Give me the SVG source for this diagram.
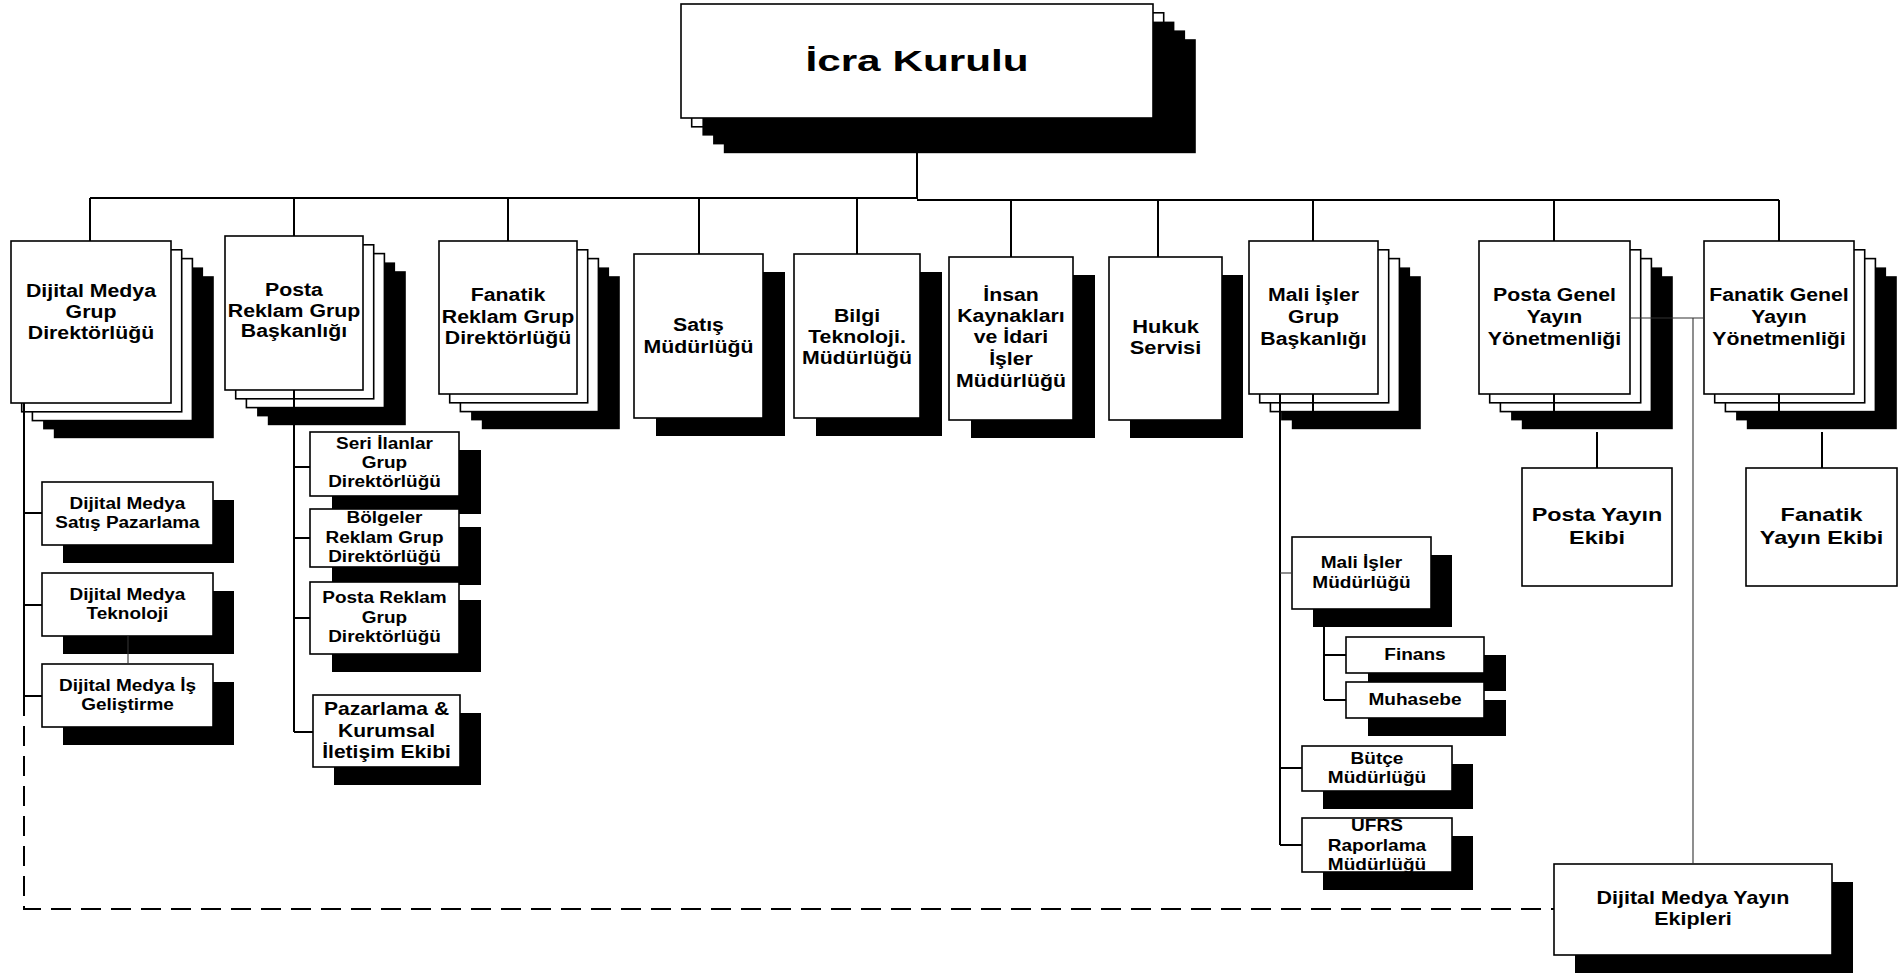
<svg xmlns="http://www.w3.org/2000/svg" width="1901" height="976" viewBox="0 0 1901 976">
<style>
.bx{fill:#fff;stroke:#000;stroke-width:1.6}
.sh{fill:#000}
.t{font-family:"Liberation Sans",Arial,sans-serif;font-weight:bold;fill:#000;text-anchor:middle}
.L{font-size:18.5px}
.S{font-size:15.8px}
.ln{fill:none;stroke:#000;stroke-width:2}
.th{fill:none;stroke:#333;stroke-width:1.1}
.ds{fill:none;stroke:#000;stroke-width:2;stroke-dasharray:20 10}
</style>
<rect width="1901" height="976" fill="#fff"/>

<g id="icra">
<rect class="bx" x="691.7" y="12.8" width="472" height="114"/>
<rect class="sh" x="702.4" y="21.6" width="472" height="114"/>
<rect class="sh" x="713.1" y="30.4" width="472" height="114"/>
<rect class="sh" x="723.8" y="39.2" width="472" height="114"/>
<rect class="bx" x="681" y="4" width="472" height="114"/>
<text class="t" font-size="30" transform="translate(917 0) scale(1.41 1)"><tspan x="0" y="71">İcra Kurulu</tspan></text>
</g>

<g id="dmg">
<rect class="sh" x="43.1" y="267.4" width="160" height="162"/>
<rect class="sh" x="53.8" y="276.2" width="160" height="162"/>
<rect class="bx" x="32.4" y="258.6" width="160" height="162"/>
<rect class="bx" x="21.7" y="249.8" width="160" height="162"/>
<rect class="bx" x="11" y="241" width="160" height="162"/>
<text class="t L" transform="translate(91 0) scale(1.15 1)"><tspan x="0" y="297">Dijital Medya</tspan><tspan x="0" y="318">Grup</tspan><tspan x="0" y="339">Direktörlüğü</tspan></text>
</g>

<g id="prg">
<rect class="sh" x="257.1" y="262.4" width="138" height="154"/>
<rect class="sh" x="267.8" y="271.2" width="138" height="154"/>
<rect class="bx" x="246.4" y="253.6" width="138" height="154"/>
<rect class="bx" x="235.7" y="244.8" width="138" height="154"/>
<rect class="bx" x="225" y="236" width="138" height="154"/>
<text class="t L" transform="translate(294 0) scale(1.15 1)"><tspan x="0" y="296">Posta</tspan><tspan x="0" y="317">Reklam Grup</tspan><tspan x="0" y="337">Başkanlığı</tspan></text>
</g>

<g id="frg">
<rect class="sh" x="471.1" y="267.4" width="138" height="153"/>
<rect class="sh" x="481.8" y="276.2" width="138" height="153"/>
<rect class="bx" x="460.4" y="258.6" width="138" height="153"/>
<rect class="bx" x="449.7" y="249.8" width="138" height="153"/>
<rect class="bx" x="439" y="241" width="138" height="153"/>
<text class="t L" transform="translate(508 0) scale(1.15 1)"><tspan x="0" y="301">Fanatik</tspan><tspan x="0" y="323">Reklam Grup</tspan><tspan x="0" y="344">Direktörlüğü</tspan></text>
</g>

<g id="satis">
<rect class="sh" x="656" y="272" width="129" height="164"/>
<rect class="bx" x="634" y="254" width="129" height="164"/>
<text class="t L" transform="translate(698.5 0) scale(1.15 1)"><tspan x="0" y="331">Satış</tspan><tspan x="0" y="353">Müdürlüğü</tspan></text>
</g>

<g id="bilgi">
<rect class="sh" x="816" y="272" width="126" height="164"/>
<rect class="bx" x="794" y="254" width="126" height="164"/>
<text class="t L" transform="translate(857 0) scale(1.15 1)"><tspan x="0" y="322">Bilgi</tspan><tspan x="0" y="343">Teknoloji.</tspan><tspan x="0" y="364">Müdürlüğü</tspan></text>
</g>

<g id="insan">
<rect class="sh" x="971" y="275" width="124" height="163"/>
<rect class="bx" x="949" y="257" width="124" height="163"/>
<text class="t L" transform="translate(1011 0) scale(1.15 1)"><tspan x="0" y="301">İnsan</tspan><tspan x="0" y="322">Kaynakları</tspan><tspan x="0" y="343">ve İdari</tspan><tspan x="0" y="365">İşler</tspan><tspan x="0" y="387">Müdürlüğü</tspan></text>
</g>

<g id="hukuk">
<rect class="sh" x="1130" y="275" width="113" height="163"/>
<rect class="bx" x="1109" y="257" width="113" height="163"/>
<text class="t L" transform="translate(1165.5 0) scale(1.18 1)"><tspan x="0" y="333">Hukuk</tspan><tspan x="0" y="354">Servisi</tspan></text>
</g>

<g id="mig">
<rect class="sh" x="1281.1" y="267.4" width="129" height="153"/>
<rect class="sh" x="1291.8" y="276.2" width="129" height="153"/>
<rect class="bx" x="1270.4" y="258.6" width="129" height="153"/>
<rect class="bx" x="1259.7" y="249.8" width="129" height="153"/>
<rect class="bx" x="1249" y="241" width="129" height="153"/>
<text class="t L" transform="translate(1313.5 0) scale(1.15 1)"><tspan x="0" y="301">Mali İşler</tspan><tspan x="0" y="323">Grup</tspan><tspan x="0" y="345">Başkanlığı</tspan></text>
</g>

<g id="pgy">
<rect class="sh" x="1511.1" y="267.4" width="151" height="153"/>
<rect class="sh" x="1521.8" y="276.2" width="151" height="153"/>
<rect class="bx" x="1500.4" y="258.6" width="151" height="153"/>
<rect class="bx" x="1489.7" y="249.8" width="151" height="153"/>
<rect class="bx" x="1479" y="241" width="151" height="153"/>
<text class="t L" transform="translate(1554.5 0) scale(1.15 1)"><tspan x="0" y="301">Posta Genel</tspan><tspan x="0" y="323">Yayın</tspan><tspan x="0" y="345">Yönetmenliği</tspan></text>
</g>

<g id="fgy">
<rect class="sh" x="1736.1" y="267.4" width="150" height="153"/>
<rect class="sh" x="1746.8" y="276.2" width="150" height="153"/>
<rect class="bx" x="1725.4" y="258.6" width="150" height="153"/>
<rect class="bx" x="1714.7" y="249.8" width="150" height="153"/>
<rect class="bx" x="1704" y="241" width="150" height="153"/>
<text class="t L" transform="translate(1779 0) scale(1.15 1)"><tspan x="0" y="301">Fanatik Genel</tspan><tspan x="0" y="323">Yayın</tspan><tspan x="0" y="345">Yönetmenliği</tspan></text>
</g>

<g id="dmsp">
<rect class="sh" x="63" y="500" width="171" height="63"/>
<rect class="bx" x="42" y="482" width="171" height="63"/>
<text class="t S" transform="translate(127.5 0) scale(1.2 1)"><tspan x="0" y="509">Dijital Medya</tspan><tspan x="0" y="528">Satış Pazarlama</tspan></text>
</g>

<g id="dmt">
<rect class="sh" x="63" y="591" width="171" height="63"/>
<rect class="bx" x="42" y="573" width="171" height="63"/>
<text class="t S" transform="translate(127.5 0) scale(1.2 1)"><tspan x="0" y="600">Dijital Medya</tspan><tspan x="0" y="619">Teknoloji</tspan></text>
</g>

<g id="dmig">
<rect class="sh" x="63" y="682" width="171" height="63"/>
<rect class="bx" x="42" y="664" width="171" height="63"/>
<text class="t S" transform="translate(127.5 0) scale(1.2 1)"><tspan x="0" y="691">Dijital Medya İş</tspan><tspan x="0" y="710">Geliştirme</tspan></text>
</g>

<g id="seri">
<rect class="sh" x="332" y="450" width="149" height="64"/>
<rect class="bx" x="310" y="432" width="149" height="64"/>
<text class="t S" transform="translate(384.5 0) scale(1.2 1)"><tspan x="0" y="449">Seri İlanlar</tspan><tspan x="0" y="468">Grup</tspan><tspan x="0" y="487">Direktörlüğü</tspan></text>
</g>

<g id="bolgeler">
<rect class="sh" x="332" y="527" width="149" height="58"/>
<rect class="bx" x="310" y="509" width="149" height="58"/>
<text class="t S" transform="translate(384.5 0) scale(1.2 1)"><tspan x="0" y="523">Bölgeler</tspan><tspan x="0" y="543">Reklam Grup</tspan><tspan x="0" y="562">Direktörlüğü</tspan></text>
</g>

<g id="prgd">
<rect class="sh" x="332" y="600" width="149" height="72"/>
<rect class="bx" x="310" y="582" width="149" height="72"/>
<text class="t S" transform="translate(384.5 0) scale(1.2 1)"><tspan x="0" y="603">Posta Reklam</tspan><tspan x="0" y="623">Grup</tspan><tspan x="0" y="642">Direktörlüğü</tspan></text>
</g>

<g id="pazarlama">
<rect class="sh" x="334" y="713" width="147" height="72"/>
<rect class="bx" x="313" y="695" width="147" height="72"/>
<text class="t" font-size="17.7" transform="translate(386.5 0) scale(1.19 1)"><tspan x="0" y="715">Pazarlama &amp;</tspan><tspan x="0" y="737">Kurumsal</tspan><tspan x="0" y="758">İletişim Ekibi</tspan></text>
</g>

<g id="mim">
<rect class="sh" x="1313" y="555" width="139" height="72"/>
<rect class="bx" x="1292" y="537" width="139" height="72"/>
<text class="t" font-size="16.3" transform="translate(1361.5 0) scale(1.17 1)"><tspan x="0" y="568">Mali İşler</tspan><tspan x="0" y="588">Müdürlüğü</tspan></text>
</g>

<g id="finans">
<rect class="sh" x="1368" y="655" width="138" height="36"/>
<rect class="bx" x="1346" y="637" width="138" height="36"/>
<text class="t" font-size="16.3" transform="translate(1415 0) scale(1.17 1)"><tspan x="0" y="660">Finans</tspan></text>
</g>

<g id="muhasebe">
<rect class="sh" x="1368" y="700" width="138" height="36"/>
<rect class="bx" x="1346" y="682" width="138" height="36"/>
<text class="t" font-size="16.3" transform="translate(1415 0) scale(1.17 1)"><tspan x="0" y="705">Muhasebe</tspan></text>
</g>

<g id="butce">
<rect class="sh" x="1323" y="764" width="150" height="45"/>
<rect class="bx" x="1302" y="746" width="150" height="45"/>
<text class="t" font-size="16.3" transform="translate(1377 0) scale(1.17 1)"><tspan x="0" y="764">Bütçe</tspan><tspan x="0" y="783">Müdürlüğü</tspan></text>
</g>

<g id="ufrs">
<rect class="sh" x="1323" y="836" width="150" height="54"/>
<rect class="bx" x="1302" y="818" width="150" height="54"/>
<text class="t" font-size="16.3" transform="translate(1377 0) scale(1.17 1)"><tspan x="0" y="831">UFRS</tspan><tspan x="0" y="851">Raporlama</tspan><tspan x="0" y="870">Müdürlüğü</tspan></text>
</g>

<g id="pye">
<rect class="bx" x="1522" y="468" width="150" height="118" stroke-width="2.2"/>
<text class="t" font-size="19" transform="translate(1597 0) scale(1.23 1)"><tspan x="0" y="521">Posta Yayın</tspan><tspan x="0" y="544">Ekibi</tspan></text>
</g>

<g id="fye">
<rect class="bx" x="1746" y="468" width="151" height="118" stroke-width="2.2"/>
<text class="t" font-size="19" transform="translate(1821.5 0) scale(1.23 1)"><tspan x="0" y="521">Fanatik</tspan><tspan x="0" y="544">Yayın Ekibi</tspan></text>
</g>

<g id="dmye">
<rect class="sh" x="1575" y="882" width="278" height="91"/>
<rect class="bx" x="1554" y="864" width="278" height="91"/>
<text class="t" font-size="19" transform="translate(1693 0) scale(1.13 1)"><tspan x="0" y="904">Dijital Medya Yayın</tspan><tspan x="0" y="925">Ekipleri</tspan></text>
</g>

<g id="connectors">
<path class="ln" d="M917 118V198M90 198H918M917 200H1779M90 198V241M294 198V236M508 198V241M699 198V254M857 198V254M1011 200V257M1158 200V257M1313 200V241M1554 200V241M1779 200V241"/>
<path class="ln" d="M24 403V696M24 513H42M24 605H42M24 696H42"/>
<path class="th" d="M128 636V664"/>
<path class="ln" d="M294 390V732M294 467H310M294 538H310M294 618H310M294 732H313"/>
<path class="ln" d="M1313 394V412M1280 394V845M1280 768H1302M1280 845H1302M1324 609V700M1324 655H1346M1324 700H1346"/>
<path class="th" d="M1280 573H1292"/>
<path class="ln" d="M1554 394V412M1779 394V412M1597 432V468M1822 432V468"/>
<path class="th" d="M1630 318H1704M1693 318V864"/>
<path class="ds" d="M24 696V909H1554"/>
</g>
</svg>
